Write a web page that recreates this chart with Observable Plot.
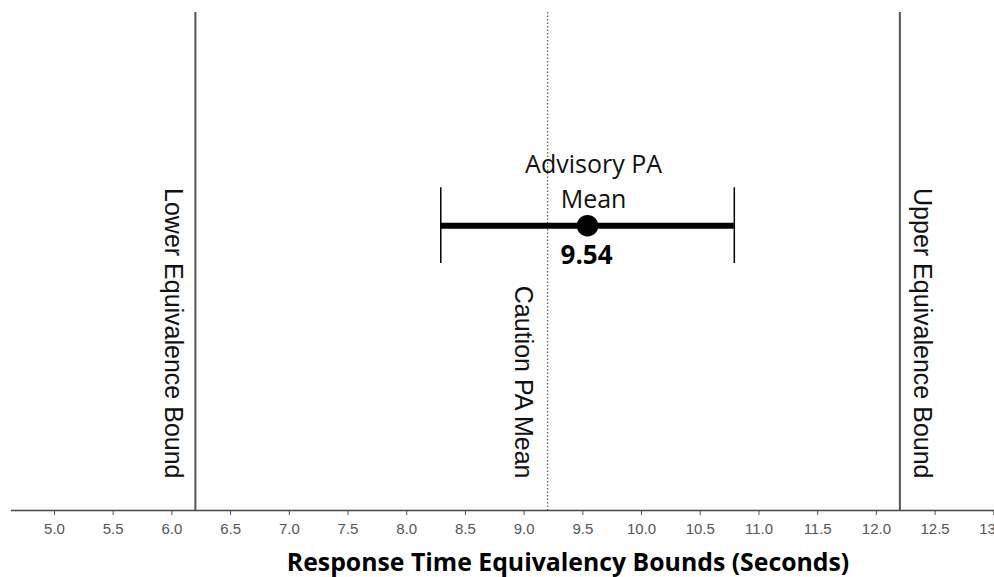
<!DOCTYPE html>
<html>
<head>
<meta charset="utf-8">
<script src="https://cdn.jsdelivr.net/npm/d3@7"></script>
<script src="https://cdn.jsdelivr.net/npm/@observablehq/plot@0.6"></script>
<style>
  html, body { margin: 0; padding: 0; background: #fff; }
  #chart svg { display: block; }
</style>
</head>
<body>
<div id="chart"></div>
<script>
// ---- data ----
const xTicks = [5.0, 5.5, 6.0, 6.5, 7.0, 7.5, 8.0, 8.5, 9.0, 9.5, 10.0, 10.5, 11.0, 11.5, 12.0, 12.5, 13.0];
const boundLabels = ["Lower Equivalence Bound", "Upper Equivalence Bound"];
const boundValues = [6.2, 12.2];
const cautionLabel = "Caution PA Mean";
const cautionMean = 9.2;
const advisoryLabel = "Advisory PA\nMean";
const advisoryMean = 9.54;
const advisoryLow = 8.29;
const advisoryHigh = 10.79;
const axisTitle = "Response Time Equivalency Bounds (Seconds)";

// ---- layout constants ----
const ROW = 57.2;   // vertical position of the advisory estimate (y units 0..100)
const CAP = 7.6;    // half height of error bar caps
const SANS = "'Liberation Sans', Arial, sans-serif";

const bounds = boundLabels.map((label, i) => ({label, value: boundValues[i]}));
const advisory = [{mean: advisoryMean, lo: advisoryLow, hi: advisoryHigh, label: advisoryLabel}];

const rotated = (data, opts) => Plot.text(data, {
  frameAnchor: "bottom", dy: -32, rotate: 90, textAnchor: "end", lineAnchor: "middle",
  fontSize: 25, fontFamily: SANS, fill: "#111", ...opts
});

const chart = Plot.plot({
  width: 994,
  height: 577,
  marginLeft: 11,
  marginRight: 0,
  marginTop: 12,
  marginBottom: 67,
  style: {background: "#fff", overflow: "hidden"},
  x: {domain: [4.634, 13.006]},
  y: {domain: [0, 100], axis: null},
  marks: [
    // x axis
    Plot.axisX({
      ticks: xTicks,
      tickFormat: d3.format(".1f"),
      tickSize: 5,
      tickPadding: 7.5,
      fontSize: 15,
      fontFamily: SANS,
      color: "#555",
      stroke: "#555",
      label: null
    }),
    Plot.ruleY([0], {stroke: "#444", strokeWidth: 1.5}),
    // equivalence bounds
    Plot.ruleX(bounds, {x: "value", stroke: "#555", strokeWidth: 2}),
    rotated(bounds.slice(0, 1), {x: "value", text: "label", dx: -22}),
    rotated(bounds.slice(1), {x: "value", text: "label", dx: 22}),
    // caution mean
    Plot.ruleX([cautionMean], {stroke: "#666", strokeWidth: 1.3, strokeDasharray: "1.5,2"}),
    rotated([cautionMean], {x: d => d, text: () => cautionLabel, dx: -25}),
    // advisory mean with interval
    Plot.ruleY(advisory, {x1: "lo", x2: "hi", y: () => ROW, stroke: "#000", strokeWidth: 6}),
    Plot.ruleX(advisory, {x: "lo", y1: () => ROW - CAP, y2: () => ROW + CAP, stroke: "#000", strokeWidth: 1.5}),
    Plot.ruleX(advisory, {x: "hi", y1: () => ROW - CAP, y2: () => ROW + CAP, stroke: "#000", strokeWidth: 1.5}),
    Plot.dot(advisory, {x: "mean", y: () => ROW, r: 10, fill: "#000", stroke: "#000"}),
    Plot.text(advisory, {
      x: "mean", y: () => ROW, text: "label", lineAnchor: "bottom", lineHeight: 1.4,
      dy: -18, dx: 6, fontSize: 25, fontFamily: "'Open Sans', sans-serif", fill: "#111"
    }),
    Plot.text(advisory, {
      x: "mean", y: () => ROW, text: d => d3.format(".2f")(d.mean), lineAnchor: "top",
      dy: 19.5, dx: -1, fontSize: 26, fontWeight: "bold", fontFamily: "'Open Sans', sans-serif", fill: "#000"
    }),
    // axis title
    Plot.text([axisTitle], {
      frameAnchor: "bottom", lineAnchor: "middle", text: d => d, dy: 53, dx: 65,
      fontSize: 24.8, fontWeight: "bold", fontFamily: "'Open Sans', sans-serif", fill: "#000"
    })
  ]
});
document.getElementById("chart").appendChild(chart);
</script>
</body>
</html>
